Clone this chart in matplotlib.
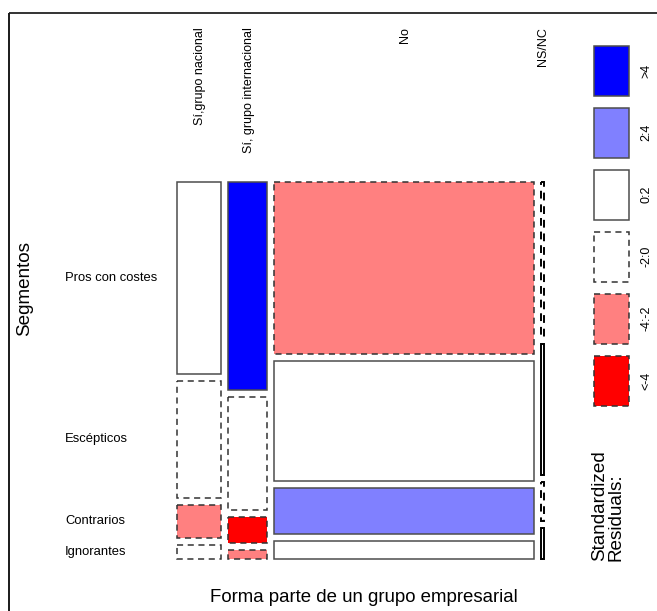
import matplotlib
matplotlib.use("Agg")
import matplotlib.pyplot as plt
from matplotlib.patches import Rectangle
import numpy as np

plt.rcParams['font.family'] = ['Liberation Sans', 'DejaVu Sans']

# ---- data ----
columns = ["Sí,grupo nacional", "Sí, grupo internacional", "No", "NS/NC"]
rows = ["Pros con costes", "Escépticos", "Contrarios", "Ignorantes"]
# counts per column (rows order as above)
col_nacional = [69, 42, 12, 5]
col_internacional = [66, 36, 8, 3]
col_no = [363, 254, 98, 38]
col_nsnc = [4, 3.4, 1, 0.8]
# standardized residuals per column (estimated from shading)
res_nacional = [1.0, -1.0, -2.5, -0.5]
res_internacional = [5.5, -1.5, -4.5, -2.5]
res_no = [-3.0, 0.8, 3.0, 0.5]
res_nsnc = [-0.3, 0.3, -0.3, 0.5]
legend_labels = [">4", "2:4", "0:2", "-2:0", "-4:-2", "<-4"]
legend_res = [5, 3, 1, -1, -3, -5]

counts = np.array([col_nacional, col_internacional, col_no, col_nsnc], dtype=float)
resid = np.array([res_nacional, res_internacional, res_no, res_nsnc], dtype=float)

W, H = 657, 611
fig = plt.figure(figsize=(W / 100, H / 100), dpi=100)
ax = fig.add_axes([0, 0, 1, 1])
ax.set_xlim(0, W)
ax.set_ylim(H, 0)
ax.axis("off")

def style(r):
    if r > 4:
        fc = "#0000FF"
    elif r > 2:
        fc = "#8080FF"
    elif r > -2:
        fc = "#FFFFFF"
    elif r > -4:
        fc = "#FF8080"
    else:
        fc = "#FF0000"
    if r >= 0:
        return fc, "solid", "#4d4d4d"
    return fc, (0, (4, 3)), "#333333"

# layout
X0, X1 = 177, 544
Y0, Y1 = 182, 559
GAP = 7
ncol, nrow = counts.shape
avail_w = (X1 - X0) - GAP * (ncol - 1)
avail_h = (Y1 - Y0) - GAP * (nrow - 1)
col_tot = counts.sum(axis=1)
col_w = avail_w * col_tot / col_tot.sum()

x = X0
col_centers = []
first_col_row_centers = []
for i in range(ncol):
    w = col_w[i]
    col_centers.append(x + w / 2)
    y = Y0
    hs = avail_h * counts[i] / counts[i].sum()
    for j in range(nrow):
        h = hs[j]
        fc, ls, ec = style(resid[i, j])
        lw = 1.1
        if w < 5:
            ec, lw = "#000000", 1.4
        ax.add_patch(Rectangle((x, y), w, h, facecolor=fc, edgecolor=ec,
                               linestyle=ls, linewidth=lw))
        if i == 0:
            first_col_row_centers.append(y + h / 2)
        y += h + GAP
    x += w + GAP

# column labels
for cx, lab in zip(col_centers, columns):
    ax.text(cx + 1, 27, lab, rotation=90, ha="center", va="top", fontsize=9)

# row labels
for cy, lab in zip(first_col_row_centers, rows):
    ax.text(65, cy, lab, ha="left", va="center", fontsize=9.4)

ax.text(25, 289, "Segmentos", rotation=90, ha="center", va="center", fontsize=13.6)
ax.text(364, 597, "Forma parte de un grupo empresarial", ha="center", va="center",
        fontsize=13.4)

# legend
LX, LW = 594, 35
LY0, LH, LSTEP = 46, 49.5, 62
for k, (lab, r) in enumerate(zip(legend_labels, legend_res)):
    fc, ls, ec = style(r)
    y = LY0 + k * LSTEP
    ax.add_patch(Rectangle((LX, y), LW, LH, facecolor=fc, edgecolor=ec,
                           linestyle=ls, linewidth=1.1))
    ax.text(646, y + LH / 2, lab, rotation=90, ha="center", va="center", fontsize=9)

ax.text(608, 561, "Standardized\nResiduals:", rotation=90, ha="center", va="bottom",
        multialignment="left", fontsize=13.6, linespacing=0.92)

# frame lines
ax.plot([8.5, W], [13, 13], color="#333333", lw=1.4, solid_capstyle="butt")
ax.plot([8.5, 8.5], [13, H], color="#1a1a1a", lw=1.4, solid_capstyle="butt")

fig.savefig("out.png", dpi=100)
